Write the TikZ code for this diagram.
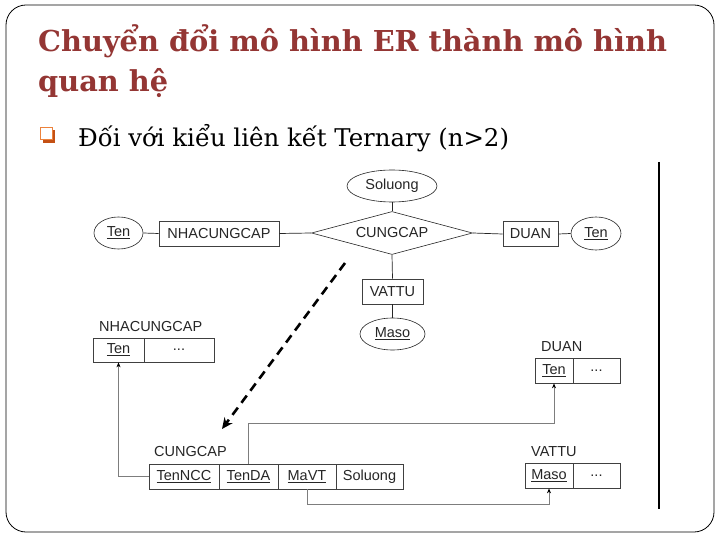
\documentclass[tikz,border=0pt]{standalone}
\usepackage{fontspec}
\setmainfont{Liberation Serif}
\newfontfamily\titlefont{DejaVu Serif}
\newfontfamily\diafont{Liberation Sans}
\usetikzlibrary{shapes.geometric,arrows.meta}
\definecolor{titlered}{RGB}{148,54,52}
\definecolor{bulletor}{RGB}{236,130,60}
\definecolor{bulletdark}{RGB}{196,80,20}
\definecolor{linegray}{RGB}{125,125,125}
\newcommand\keyu[1]{\leavevmode\vtop{\hbox{#1}\kern1.2pt\hrule height 1.3pt}}
\begin{document}
\begin{tikzpicture}[x=1pt,y=-1pt,
  dfont/.style={font=\diafont\fontsize{14.5}{16}\selectfont, text=black!85},
  ent/.style={dfont, draw=black!75, line width=0.7pt, rectangle, minimum height=25, inner sep=0pt},
  attr/.style={dfont, draw=black!85, line width=0.6pt, ellipse, inner sep=0pt},
  rel/.style={dfont, draw=black!85, line width=0.6pt, diamond, shape aspect=3.7, inner sep=0pt},
  cell/.style={dfont, draw=black!75, line width=0.7pt, rectangle, minimum height=25, inner sep=0pt},
  lbl/.style={dfont, inner sep=0pt},
  erline/.style={black!85, line width=0.7pt},
  fk/.style={linegray, line width=1pt, -{Stealth[length=5pt,width=4pt,color=black]}},
  dasharrow/.style={black, line width=2.6pt, dash pattern=on 9pt off 6pt, -{Stealth[length=11pt,width=10pt]}}
]
\useasboundingbox (0,0) rectangle (720,540);
\fill[white] (0,0) rectangle (720,540);
\draw[line width=0.8pt, rounded corners=20pt] (6,5) rectangle (714,532);

% title
\node[anchor=base west, inner sep=0, text=titlered, font=\titlefont\bfseries\fontsize{28.8}{34}\selectfont] (t1) at (38,52) {Chuyển đổi mô hình ER thành mô hình};
\node[anchor=base west, inner sep=0, text=titlered, font=\titlefont\bfseries\fontsize{28.8}{34}\selectfont] (t2) at (38,92) {quan hệ};

% bullet
\fill[bulletdark] (42.5,130.5) rectangle (55,143);
\filldraw[fill=white, draw=bulletor, line width=1pt] (40,128) rectangle (52,140);
\node[anchor=base west, inner sep=0, font=\titlefont\fontsize{24.4}{28}\selectfont] (b1) at (78,147) {Đối với kiểu liên kết Ternary (n>2)};

% ER diagram
\node[attr, minimum width=90, minimum height=32] (sol) at (392,186) {Soluong};
\node[rel, minimum width=161, minimum height=43] (cc) at (392,233) {CUNGCAP};
\node[ent, minimum width=120] (ncc) at (219,233.5) {NHACUNGCAP};
\node[attr, minimum width=49, minimum height=32] (lten) at (118.5,233) {\keyu{Ten}};
\node[ent, minimum width=55] (duan) at (530.5,234) {DUAN};
\node[attr, minimum width=50, minimum height=33] (rten) at (596,233.5) {\keyu{Ten}};
\node[ent, minimum width=61] (vt) at (392.5,291.5) {VATTU};
\node[attr, minimum width=65, minimum height=32] (maso) at (392.5,334) {\keyu{Maso}};

\draw[erline] (sol.south) -- (cc.north);
\draw[erline] (lten.east) -- (ncc.west);
\draw[erline] (ncc.east) -- (cc.west);
\draw[erline] (cc.east) -- (duan.west);
\draw[erline] (duan.east) -- (rten.west);
\draw[erline] (cc.south) -- (vt.north);
\draw[erline] (vt.south) -- (maso.north);

% dashed arrow
\coordinate (d1) at (345,263);
\coordinate (d2) at (222,429);
\draw[dasharrow] (d1) -- (d2);

% relational tables
\node[lbl, anchor=west] (lncc) at (99,327) {NHACUNGCAP};
\node[cell, minimum width=51, minimum height=24] (nten) at (118.5,350) {\keyu{Ten}};
\node[cell, minimum width=70, minimum height=24] (ndots) at (179,350) {...};

\node[lbl, anchor=west] (lcc) at (154,452) {CUNGCAP};
\node[cell, minimum width=70] (tncc) at (184,476.5) {\keyu{TenNCC}};
\node[cell, minimum width=59] (tda) at (248.5,476.5) {\keyu{TenDA}};
\node[cell, minimum width=58] (mvt) at (307,476.5) {\keyu{MaVT}};
\node[cell, minimum width=67] (sl) at (369.5,476.5) {Soluong};

\node[lbl, anchor=west] (lduan) at (541,347) {DUAN};
\node[cell, minimum width=38] (dten) at (554,370.5) {\keyu{Ten}};
\node[cell, minimum width=47] (ddots) at (596.5,370.5) {...};

\node[lbl, anchor=west] (lvt) at (531,452) {VATTU};
\node[cell, minimum width=48] (vmaso) at (549,475.5) {\keyu{Maso}};
\node[cell, minimum width=47] (vdots) at (596.5,475.5) {...};

\draw[fk] (tncc.west) -| (nten.south);
\coordinate (k1) at (248.5,423);
\draw[fk] (tda.north) -- (k1) -| (dten.south);
\coordinate (k2) at (307,504);
\draw[fk] (mvt.south) -- (k2) -| (vmaso.south);

% vertical line
\coordinate (v1) at (659,162);
\coordinate (v2) at (659,509);
\draw[black, line width=1.3pt] (v1) -- (v2);
\end{tikzpicture}
\end{document}
